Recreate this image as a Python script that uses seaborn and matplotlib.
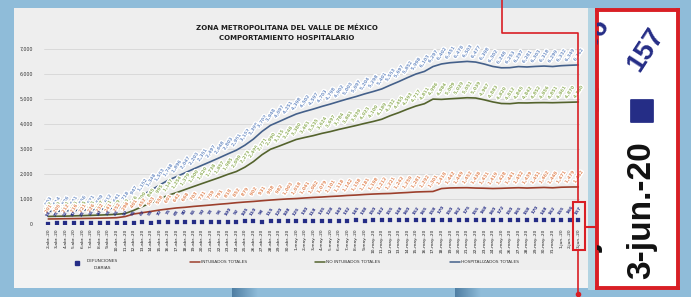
import numpy as np
import pandas as pd
import matplotlib
matplotlib.use("Agg")
import matplotlib.pyplot as plt
import matplotlib.patheffects as pe
from matplotlib.colors import LinearSegmentedColormap
from matplotlib.patches import Rectangle
import seaborn as sns

# ---------------- datos ----------------
fechas = pd.date_range("2020-04-02", "2020-06-03", freq="D")
meses = {4: "abr.", 5: "may.", 6: "jun."}
etiquetas = [f"{d.day}-{meses[d.month]}-20" for d in fechas]
dias = list(range(len(fechas)))

hospitalizados_totales = [503, 514, 526, 541, 556, 571, 589, 612, 641, 718,
                          947, 1152, 1348, 1553, 1748, 1896, 2047, 2203, 2351, 2497,
                          2648, 2803, 2951, 3152, 3398, 3702, 3948, 4097, 4251, 4398,
                          4502, 4597, 4703, 4798, 4902, 5003, 5097, 5204, 5298, 5401,
                          5553, 5697, 5852, 5998, 6103, 6297, 6402, 6451, 6478, 6503,
                          6477, 6398, 6302, 6248, 6253, 6297, 6281, 6303, 6318, 6299,
                          6332, 6349, 6362]
intubados_totales = [201, 205, 212, 216, 221, 226, 232, 241, 252, 298,
                     401, 452, 503, 558, 601, 642, 668, 703, 731, 759,
                     791, 818, 852, 879, 902, 931, 958, 982, 1003, 1018,
                     1041, 1062, 1079, 1101, 1118, 1142, 1158, 1181, 1198, 1212,
                     1221, 1242, 1259, 1281, 1292, 1301, 1418, 1442, 1449, 1452,
                     1438, 1431, 1419, 1428, 1441, 1452, 1439, 1451, 1462, 1448,
                     1471, 1479, 1482]
no_intubados_totales = [302, 309, 314, 325, 335, 345, 357, 371, 389, 420,
                        546, 700, 845, 995, 1147, 1254, 1379, 1500, 1620, 1738,
                        1857, 1985, 2099, 2273, 2496, 2771, 2990, 3115, 3248, 3380,
                        3461, 3535, 3624, 3697, 3784, 3861, 3939, 4023, 4100, 4189,
                        4332, 4455, 4593, 4717, 4811, 4996, 4984, 5009, 5029, 5051,
                        5039, 4967, 4883, 4820, 4812, 4845, 4842, 4852, 4856, 4851,
                        4861, 4870, 4880]
defunciones_diarias = [18, 25, 22, 30, 28, 35, 40, 38, 45, 50,
                       55, 62, 58, 70, 75, 68, 80, 85, 90, 78,
                       95, 100, 92, 105, 110, 98, 115, 120, 108, 125,
                       130, 118, 135, 128, 140, 132, 145, 138, 150, 142,
                       155, 148, 160, 152, 165, 158, 170, 150, 162, 175,
                       155, 168, 160, 172, 150, 165, 158, 170, 148, 162,
                       155, 166, 157]

nombres = ["DEFUNCIONES\nDIARIAS", "INTUBADOS TOTALES",
           "NO INTUBADOS TOTALES", "HOSPITALIZADOS TOTALES"]
titulo = "ZONA METROPOLITANA DEL VALLE DE MÉXICO\nCOMPORTAMIENTO HOSPITALARIO"

# colores
AZUL_LINEA, AZUL_TXT = "#44608a", "#7896c8"
VERDE_LINEA, VERDE_TXT = "#54632d", "#98b466"
ROJO_LINEA, ROJO_TXT = "#9c3f2c", "#e38f62"
MARINO = "#252d86"
ROJO_MARCO = "#d91f25"

sns.set_theme(style="white")
plt.rcParams["font.family"] = ["DejaVu Sans"]

W, H = 691, 297
fig = plt.figure(figsize=(W / 100, H / 100), dpi=100)
fig.patch.set_facecolor("#8fbcd9")

# ---------------- fondo (foto de la lamina) ----------------
bg = fig.add_axes([0, 0, 1, 1], zorder=0)
bg.set_xlim(0, W)
bg.set_ylim(H, 0)
bg.axis("off")
bg.add_patch(Rectangle((14, 8), 574, 280, color="#eeeeee", lw=0))
bg.add_patch(Rectangle((14, 270), 574, 18, color="#f3f3f3", lw=0))
grad = np.linspace(0, 1, 64).reshape(1, -1)
sombra = LinearSegmentedColormap.from_list("s", ["#a0a5aa", "#eeeeee"])
bg.imshow(grad, cmap=sombra, extent=(14, 56, 288, 8), aspect="auto")
bloque = LinearSegmentedColormap.from_list("b", ["#4f7ea3", "#8fbcd9"])
for x0 in (232, 455):
    bg.imshow(grad, cmap=bloque, extent=(x0, x0 + 26, 297, 288), aspect="auto")
bg.add_patch(Rectangle((588, 8), 9, 282, color="#b3d4e2", lw=0))

# ---------------- grafica principal ----------------
ax = fig.add_axes([44 / W, 1 - 224 / H, 536 / W, 175 / H], zorder=1)
ax.set_facecolor("none")

halo = [pe.withStroke(linewidth=2.0, foreground="#ffffff")]
for vals, c_lin, c_txt in [(hospitalizados_totales, AZUL_LINEA, AZUL_TXT),
                           (no_intubados_totales, VERDE_LINEA, VERDE_TXT),
                           (intubados_totales, ROJO_LINEA, ROJO_TXT)]:
    sns.lineplot(x=dias, y=vals, ax=ax, color=c_lin, lw=1.2, legend=False)
    for d, v in zip(dias, vals):
        ax.annotate(f"{v:,}", (d, v), xytext=(0, 7), textcoords="offset points",
                    rotation=57, rotation_mode="anchor", ha="center", va="center",
                    fontsize=3.2, fontweight="bold", color=c_txt, path_effects=halo)

sns.scatterplot(x=dias, y=defunciones_diarias, ax=ax, marker="s", s=5,
                color=MARINO, edgecolor=None, legend=False)
for d, v in zip(dias, defunciones_diarias):
    ax.annotate(f"{v}", (d, v), xytext=(0, 7), textcoords="offset points",
                rotation=57, rotation_mode="anchor", ha="center", va="center",
                fontsize=3.2, fontweight="bold", color=MARINO)

ax.set_xlim(-0.5, 62.2)
ax.set_ylim(0, 7000)
ax.set_yticks(range(0, 7001, 1000))
ax.set_yticklabels([f"{v:,}" for v in range(0, 7001, 1000)], fontsize=3.4, color="#333333")
ax.set_xticks(dias)
ax.set_xticklabels(etiquetas, rotation=90, fontsize=3.2, color="#222222")
ax.tick_params(axis="y", length=0, pad=8)
ax.tick_params(axis="x", length=0, pad=3)
ax.grid(axis="y", color="#d6d6d6", lw=0.6)
ax.grid(axis="x", visible=False)
sns.despine(ax=ax, left=True, bottom=True)
ax.axhline(0, color="#c8c8c8", lw=0.7)
ax.set_xlabel("")
ax.set_ylabel("")

fig.text(287 / W, 1 - 33 / H, titulo, ha="center", va="center", fontsize=5,
         fontweight="bold", color="#1e1e1e", linespacing=1.7)

# ---------------- capa superior: leyenda y marcas rojas ----------------
ov = fig.add_axes([0, 0, 1, 1], zorder=3)
ov.set_xlim(0, W)
ov.set_ylim(H, 0)
ov.axis("off")

ov.plot([77], [263], marker="s", ms=2.2, color=MARINO)
ov.text(102, 264.5, nombres[0], ha="center", va="center", fontsize=3.2,
        color="#333333", linespacing=1.7)
for x0, nombre, c in [(190, nombres[1], ROJO_LINEA), (315, nombres[2], VERDE_LINEA),
                      (450, nombres[3], AZUL_LINEA)]:
    ov.plot([x0, x0 + 10], [262, 262], color=c, lw=1.1)
    ov.text(x0 + 11, 262, nombre, ha="left", va="center", fontsize=3.2, color="#333333")

ov.plot([502, 502, 578, 578], [0, 33, 33, 202], color=ROJO_MARCO, lw=1.2)
ov.add_patch(Rectangle((573, 202), 12, 48, fill=False, ec=ROJO_MARCO, lw=1.5))
ov.plot([578, 578], [250, 294], color=ROJO_MARCO, lw=1.2)
ov.plot([578], [294], marker="o", ms=3, color=ROJO_MARCO)
ov.plot([585, 597], [227, 227], color=ROJO_MARCO, lw=1.5)

# ---------------- recuadro ampliado (3-jun.-20) ----------------
ins = fig.add_axes([597 / W, 1 - 288 / H, 81 / W, 278 / H], zorder=4)
ins.set_facecolor("white")
ins.set_xlim(61.19, 62.66)
ins.set_ylim(0, 246)
ins.set_xticks([])
ins.set_yticks([])
for s in ins.spines.values():
    s.set_color(ROJO_MARCO)
    s.set_linewidth(2.8)
sns.scatterplot(x=dias, y=defunciones_diarias, ax=ins, marker="s", s=250,
                color=MARINO, edgecolor=None, legend=False)
for d in dias[-2:]:
    v = defunciones_diarias[d]
    ins.annotate(f"{v}", (d, v), xytext=(3, 44), textcoords="offset points",
                 rotation=57, rotation_mode="anchor", ha="center", va="center",
                 fontsize=20, fontweight="bold", color=MARINO, family="Liberation Sans",
                 annotation_clip=False, clip_on=True)
    ins.text(d, 0.281, etiquetas[d], transform=ins.get_xaxis_transform(),
             rotation=90, ha="center", va="center", fontsize=24, fontweight="bold",
             family="Liberation Sans", color="#111111", clip_on=True)

fig.savefig("out.png", dpi=100, facecolor=fig.get_facecolor())
